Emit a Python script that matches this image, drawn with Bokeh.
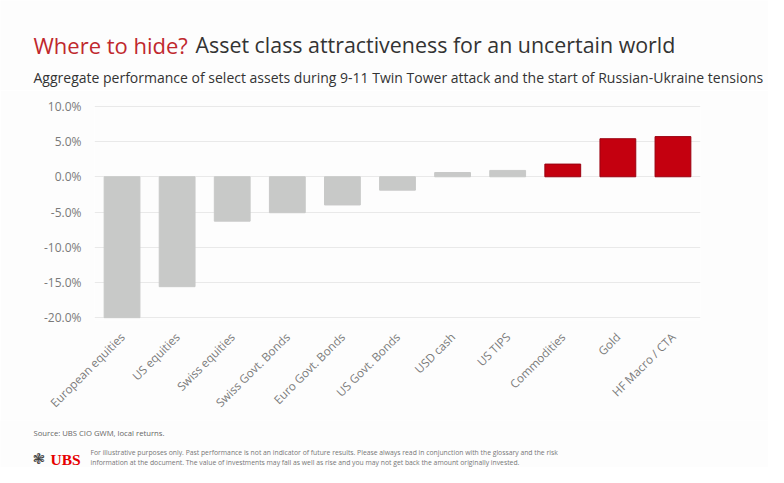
import math
from bokeh.plotting import figure
from bokeh.layouts import column
from bokeh.models import Label, FactorRange, Range1d, FixedTicker, ColumnDataSource
from bokeh.embed import file_html
from bokeh.resources import INLINE

categories = ["European equities", "US equities", "Swiss equities", "Swiss Govt. Bonds",
              "Euro Govt. Bonds", "US Govt. Bonds", "USD cash", "US TIPS",
              "Commodities", "Gold", "HF Macro / CTA"]
values = [-20.0, -15.6, -6.3, -5.1, -4.0, -1.9, 0.6, 0.9, 1.8, 5.4, 5.7]
highlighted = ["Commodities", "Gold", "HF Macro / CTA"]
y_ticks = [-20, -15, -10, -5, 0, 5, 10]
y_tick_labels = ["-20.0%", "-15.0%", "-10.0%", "-5.0%", "0.0%", "5.0%", "10.0%"]

title_red = "Where to hide?"
title_rest = "Asset class attractiveness for an uncertain world"
subtitle = "Aggregate performance of select assets during 9-11 Twin Tower attack and the start of Russian-Ukraine tensions"
source_note = "Source: UBS CIO GWM, local returns."
disclaimer = ["For illustrative purposes only. Past performance is not an indicator of future results. Please always read in conjunction with the glossary and the risk",
              "information at the document. The value of investments may fall as well as rise and you may not get back the amount originally invested."]

FONT = "Open Sans"
RED = "#c4000f"
GRAY = "#c8c9c8"
BG = "#fdfdfd"
W = 768


def blank(h):
    f = figure(width=W, height=h, x_range=Range1d(0, W), y_range=Range1d(h, 0),
               output_backend="svg", toolbar_location=None, x_axis_location=None,
               y_axis_location=None, min_border=0, frame_align=False)
    f.grid.visible = False
    f.outline_line_color = None
    f.background_fill_color = BG
    f.border_fill_color = BG
    return f


def lab(f, x, y, text, size, color, font=FONT, style="normal"):
    f.add_layout(Label(x=x, y=y, text=text, text_font=font, text_font_size=size,
                       text_color=color, text_font_style=style, text_baseline="alphabetic"))


# header
head = blank(90)
lab(head, 33, 44, title_red, "22px", "#c0282d")
lab(head, 195, 44, title_rest, "21.4px", "#333333")
lab(head, 33, 77, subtitle, "14px", "#333333")

# main chart
fills = [RED if c in highlighted else GRAY for c in categories]
lines = ["#9a0010" if c in highlighted else GRAY for c in categories]
src = ColumnDataSource(dict(x=categories, top=values, fill=fills, line=lines))

p = figure(width=W, height=330, x_range=FactorRange(*categories, range_padding=0),
           y_range=Range1d(-20.4, 10.4), output_backend="svg", toolbar_location=None,
           min_border_left=94, min_border_right=68, min_border_top=13, min_border_bottom=100,
           frame_align=False)
p.background_fill_color = BG
p.border_fill_color = BG
p.outline_line_color = None

p.vbar(x="x", top="top", bottom=0, width=0.65, source=src,
       fill_color="fill", line_color="line", line_width=1)

p.xgrid.grid_line_color = None
p.ygrid.grid_line_color = "#e9e9e9"
p.ygrid.grid_line_width = 1
p.yaxis.ticker = FixedTicker(ticks=y_ticks)
p.yaxis.major_label_overrides = {t: l for t, l in zip(y_ticks, y_tick_labels)}
for ax in (p.xaxis[0], p.yaxis[0]):
    ax.axis_line_color = None
    ax.major_tick_line_color = None
    ax.minor_tick_line_color = None
    ax.major_label_text_font = FONT
    ax.major_label_text_font_size = "11.7px"
    ax.major_label_text_color = "#7a7a7a"
p.yaxis.major_label_text_font_size = "12px"
p.yaxis.major_label_standoff = 7
p.xaxis.major_label_orientation = math.pi / 4
p.xaxis.major_label_standoff = 8

# footer
foot = blank(47)
lab(foot, 33, 12.5, source_note, "7.7px", "#666666")
lab(foot, 90, 32, disclaimer[0], "6.8px", "#777777")
lab(foot, 90, 41.5, disclaimer[1], "6.8px", "#777777")
lab(foot, 32, 38.5, "\u2743", "15px", "#444444", font="DejaVu Sans")
lab(foot, 50, 39, "UBS", "15.5px", "#e60000", font="Liberation Serif", style="bold")

layout = column(head, p, foot, spacing=0)
open("out.html", "w").write(file_html(layout, INLINE))
